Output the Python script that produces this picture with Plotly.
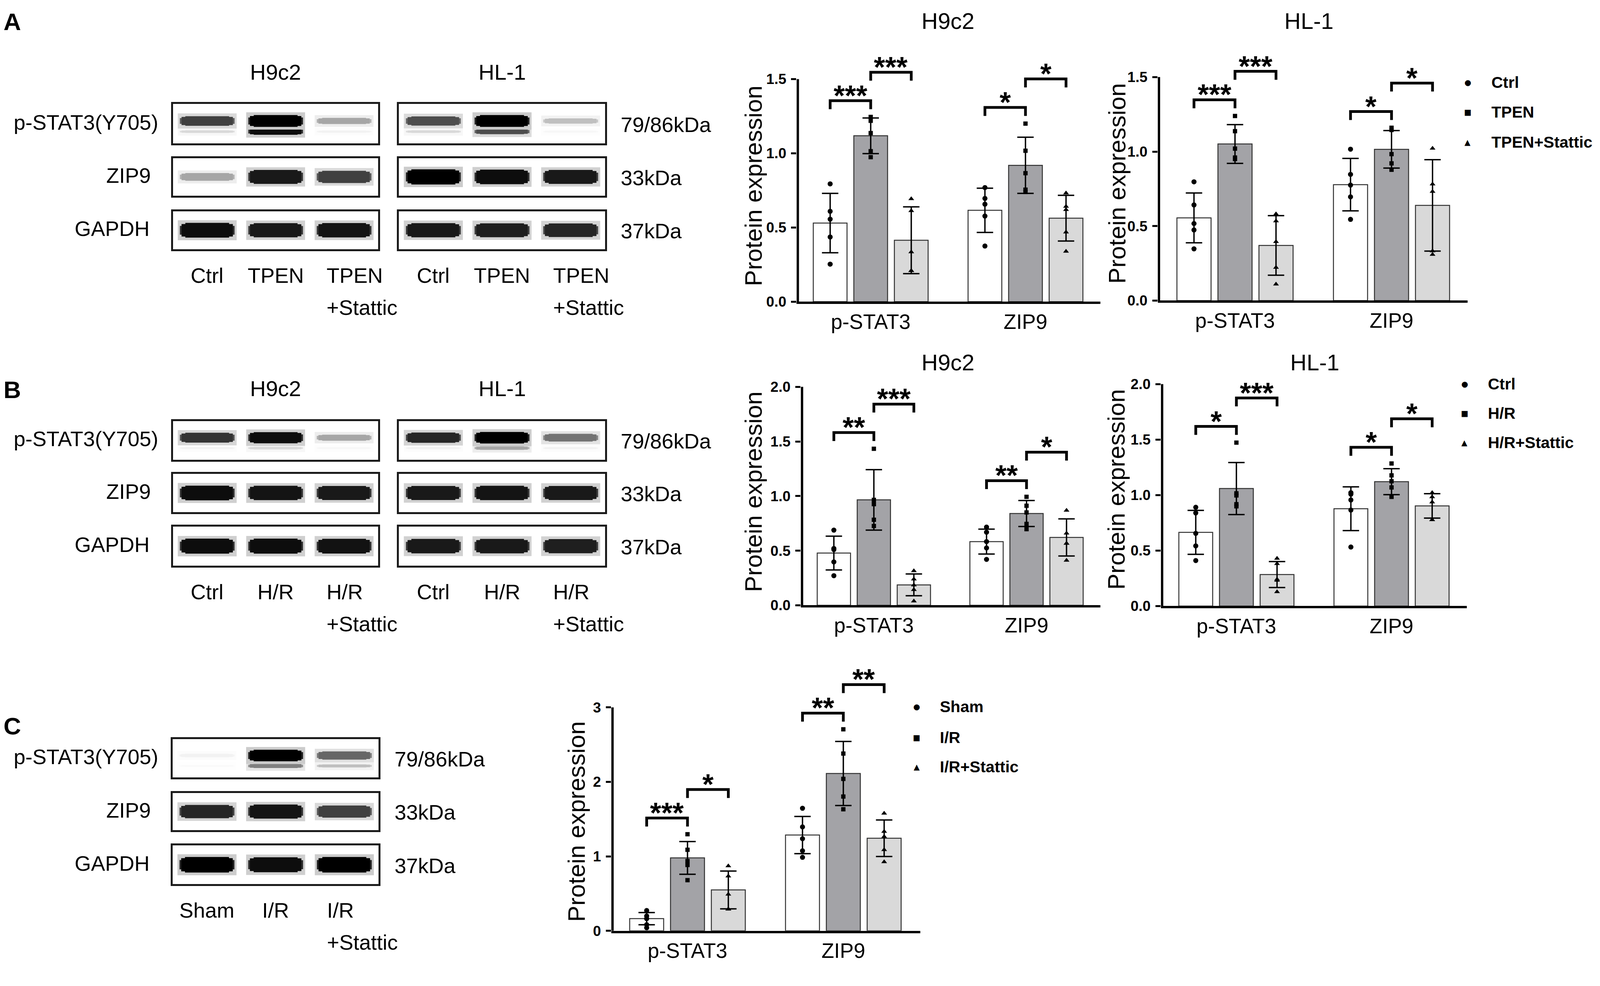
import plotly.graph_objects as go

# positions below are measured on the 4550 x 2524 reference and turned into paper fractions;
# the browser viewport is 4096 px wide (minus the 8 px body margin), so the figure is sized to it
W, H = 4550, 2524
FIG_W, FIG_H = 4088, 2516
FONT = "Liberation Sans, Arial, Helvetica, sans-serif"
GLYPH_FONT = "DejaVu Sans, sans-serif"

# ---------------- labels ----------------
MARKERS = ["p-STAT3", "ZIP9"]
BLOT_ROWS = ["p-STAT3(Y705)", "ZIP9", "GAPDH"]
BLOT_KDA = ["79/86kDa", "33kDa", "37kDa"]
CELL_LINES = ["H9c2", "HL-1"]
GROUPS_A = ["Ctrl", "TPEN", "TPEN+Stattic"]
GROUPS_B = ["Ctrl", "H/R", "H/R+Stattic"]
GROUPS_C = ["Sham", "I/R", "I/R+Stattic"]

# ---------------- bar chart values ----------------
# rows = group (ctrl, treatment, treatment+Stattic), cols = [p-STAT3, ZIP9]
A_H9C2_MEAN = [[0.53, 0.616], [1.118, 0.919], [0.414, 0.563]]
A_H9C2_SD = [[0.20, 0.149], [0.12, 0.189], [0.225, 0.154]]
A_H9C2_PTS = [
    [[0.794, 0.609, 0.556, 0.436, 0.253], [0.769, 0.696, 0.657, 0.577, 0.375]],
    [[1.245, 1.219, 1.136, 1.014, 0.974], [1.20, 1.017, 0.866, 0.755, 0.74]],
    [[0.693, 0.613, 0.335, 0.209, 0.209], [0.732, 0.642, 0.62, 0.469, 0.339]],
]
A_H9C2_SIG = [["***", "***"], ["*", "*"]]

A_HL1_MEAN = [[0.555, 0.778], [1.051, 1.015], [0.37, 0.639]]
A_HL1_SD = [[0.167, 0.176], [0.13, 0.126], [0.20, 0.307]]
A_HL1_PTS = [
    [[0.797, 0.642, 0.517, 0.474, 0.347], [1.016, 0.847, 0.775, 0.696, 0.545]],
    [[1.239, 1.137, 1.02, 0.96, 0.95], [1.16, 1.145, 0.983, 0.921, 0.878]],
    [[0.581, 0.534, 0.395, 0.222, 0.11], [1.022, 0.782, 0.732, 0.333, 0.309]],
]
A_HL1_SIG = [["***", "***"], ["*", "*"]]

B_H9C2_MEAN = [[0.478, 0.583], [0.965, 0.84], [0.187, 0.621]]
B_H9C2_SD = [[0.155, 0.114], [0.277, 0.119], [0.10, 0.17]]
B_H9C2_PTS = [
    [[0.688, 0.52, 0.51, 0.397, 0.271], [0.716, 0.669, 0.583, 0.525, 0.42]],
    [[1.433, 0.965, 0.926, 0.783, 0.726], [0.993, 0.911, 0.85, 0.745, 0.697]],
    [[0.315, 0.239, 0.185, 0.143, 0.038], [0.869, 0.66, 0.567, 0.567, 0.411]],
]
B_H9C2_SIG = [["**", "***"], ["**", "*"]]

B_HL1_MEAN = [[0.664, 0.877], [1.059, 1.121], [0.284, 0.903]]
B_HL1_SD = [[0.198, 0.197], [0.235, 0.117], [0.117, 0.11]]
B_HL1_PTS = [
    [[0.89, 0.839, 0.655, 0.542, 0.41], [1.022, 1.008, 0.956, 0.865, 0.532]],
    [[1.473, 1.016, 0.997, 0.918, 0.899], [1.285, 1.178, 1.125, 1.069, 0.984]],
    [[0.429, 0.382, 0.241, 0.231, 0.128], [1.022, 0.984, 0.937, 0.777, 0.777]],
]
B_HL1_SIG = [["*", "***"], ["*", "*"]]

C_MEAN = [[0.163, 1.286], [0.979, 2.113], [0.549, 1.243]]
C_SD = [[0.082, 0.25], [0.22, 0.43], [0.254, 0.245]]
C_PTS = [
    [[0.272, 0.199, 0.163, 0.082, 0.041], [1.645, 1.395, 1.237, 1.074, 0.987]],
    [[1.297, 1.088, 0.938, 0.884, 0.68], [2.706, 2.38, 2.04, 1.803, 1.632]],
    [[0.87, 0.734, 0.49, 0.291, 0.291], [1.577, 1.333, 1.265, 1.088, 0.925]],
]
C_SIG = [["***", "*"], ["**", "**"]]

TICKS_15 = [0.0, 0.5, 1.0, 1.5]
TICKS_20 = [0.0, 0.5, 1.0, 1.5, 2.0]
TICKS_3 = [0, 1, 2, 3]

# ---------------- western blot band intensities (0 = none, 1 = saturated) ----------------
# rows = p-STAT3, ZIP9, GAPDH ; lanes = 3 groups
A_H9C2_BANDS = [[0.75, 1.0, 0.35], [0.35, 0.9, 0.75], [0.95, 0.9, 0.92]]
A_H9C2_LOWER = [0.15, 0.95, 0.05]
A_HL1_BANDS = [[0.7, 1.0, 0.25], [1.0, 0.95, 0.9], [0.9, 0.88, 0.85]]
A_HL1_LOWER = [0.15, 0.7, 0.03]
B_H9C2_BANDS = [[0.8, 0.95, 0.35], [0.95, 0.92, 0.9], [0.95, 0.95, 0.93]]
B_H9C2_LOWER = [0.05, 0.15, 0.03]
B_HL1_BANDS = [[0.85, 1.0, 0.55], [0.9, 0.92, 0.9], [0.9, 0.9, 0.88]]
B_HL1_LOWER = [0.05, 0.35, 0.05]
C_BANDS = [[0.05, 1.0, 0.6], [0.85, 0.92, 0.75], [1.0, 0.95, 1.0]]
C_LOWER = [0.02, 0.5, 0.25]

# ---------------- style ----------------
BAR_FILL = ["#ffffff", "#a3a3a7", "#d9d9d9"]
BAR_EDGE = "#333333"
SYMBOLS = ["circle", "square", "triangle-up"]
SYM_SIZE = [13, 11, 13]
LEGEND_GLYPHS = ["\u25cf", "\u25a0", "\u25b2"]
STEP, BAR_W = 0.262, 0.218
LANES = [0, 1, 2]
# band drawn as stacked layers: (extra height, lane fraction, height scale, darkness scale)
BAND_LAYERS = [(0.14, 0.86, 1.0, 0.2), (0.0, 0.80, 0.6, 0.85), (0.0, 0.75, 0.85, 1.0), (0.0, 0.64, 1.0, 1.0)]

fig = go.Figure()
layout = {}
annotations = []
axis_count = [0]


def new_axes():
    axis_count[0] += 1
    n = axis_count[0]
    s = "" if n == 1 else str(n)
    return "x" + s, "y" + s, "xaxis" + s, "yaxis" + s


def text(t, x, y, size, xanchor="center", yanchor="middle", bold=False, angle=0, family=FONT):
    annotations.append(dict(
        text=t, x=x / W, y=1 - y / H, xref="paper", yref="paper",
        xanchor=xanchor, yanchor=yanchor, showarrow=False, textangle=angle,
        font=dict(family=family, size=size, color="black", weight="bold" if bold else "normal"),
    ))


def gray(i):
    v = int(round(255 * (1 - max(0.0, min(1.0, i)))))
    return "rgb(%d,%d,%d)" % (v, v, v)


def add_band(xa, ya, inten, center, t0, t1):
    thick = [t0 + t1 * i for i in inten]
    # pale halo, then narrower and taller dark layers -> rounded, soft-edged band
    for pad, wid, hs, k in BAND_LAYERS:
        hh = [t * hs + pad for t in thick]
        fig.add_trace(go.Bar(
            x=LANES, y=hh, base=[center - h / 2 for h in hh], width=wid,
            marker=dict(color=[gray(i * k) for i in inten], line=dict(width=0)),
            xaxis=xa, yaxis=ya, hoverinfo="skip", showlegend=False))


def add_blot_row(x0, x1, y0, y1, inten, lower=None):
    xa, ya, xk, yk = new_axes()
    frame = dict(showline=True, mirror=True, linewidth=5, linecolor="#1a1a1a",
                 showticklabels=False, ticks="", showgrid=False, zeroline=False, fixedrange=True)
    layout[xk] = dict(domain=[x0 / W, x1 / W], range=[-0.5, 2.5], anchor=ya, **frame)
    layout[yk] = dict(domain=[1 - y1 / H, 1 - y0 / H], range=[0, 1], anchor=xa, **frame)
    if lower is None:
        add_band(xa, ya, inten, 0.5, 0.1, 0.3)
    else:
        add_band(xa, ya, lower, 0.3, 0.05, 0.12)
        add_band(xa, ya, inten, 0.57, 0.08, 0.22)


def add_blot_panel(cols, rows, bands, lowers, groups, titles, title_y):
    for c, (x0, x1) in enumerate(cols):
        for r, (y0, y1) in enumerate(rows):
            add_blot_row(x0, x1, y0, y1, bands[c][r], lowers[c] if r == 0 else None)
        if titles:
            text(titles[c], (x0 + x1) / 2, title_y, 56)
        lane_w = (x1 - x0) / 3
        y_lab = rows[-1][1] + 68
        for k, g in enumerate(groups):
            lx = x0 + (k + 0.5) * lane_w
            if "+" in g:
                first, second = g.split("+")
                text(first, lx - 52, y_lab, 54, xanchor="left")
                text("+" + second, lx - 52, y_lab + 83, 54, xanchor="left")
            else:
                text(g, lx, y_lab, 54)
    right = cols[-1][1]
    for r, (y0, y1) in enumerate(rows):
        yc = (y0 + y1) / 2
        text(BLOT_ROWS[r], [444, 423, 420][r], yc - 4, 54, xanchor="right")
        text(BLOT_KDA[r], right + 43, yc + 2, 54, xanchor="left")


def add_chart(g, groups, mean, sd, pts, sig, yticks, fmt, title=None, legend=None):
    xa, ya, xk, yk = new_axes()
    unit = g["c1"] - g["c0"]
    xr = [(g["left"] - g["c0"]) / unit, (g["right"] - g["c0"]) / unit]
    ppu = g["ppu"]
    top_px = g["zero"] - g["rtop"] * ppu
    layout[xk] = dict(domain=[g["left"] / W, g["right"] / W], range=xr, anchor=ya,
                      tickvals=[0, 1], ticktext=MARKERS, ticks="", showline=True, linewidth=6,
                      linecolor="black", showgrid=False, zeroline=False, ticklabelstandoff=0,
                      tickfont=dict(family=FONT, size=53, color="black"), fixedrange=True)
    layout[yk] = dict(domain=[1 - g["zero"] / H, 1 - top_px / H], range=[0, g["rtop"]], anchor=xa,
                      tickvals=yticks, tickformat=fmt, ticks="outside", ticklen=13, tickwidth=5,
                      tickcolor="black", showline=False, showgrid=False, zeroline=False,
                      ticklabelstandoff=5, fixedrange=True,
                      tickfont=dict(family=FONT, size=37, color="black", weight="bold"))

    for k in range(3):
        off = (k - 1) * STEP
        fig.add_trace(go.Bar(
            x=[0, 1], y=mean[k], offset=off - BAR_W / 2, width=BAR_W, name=groups[k],
            marker=dict(color=BAR_FILL[k], line=dict(color=BAR_EDGE, width=2.5)),
            error_y=dict(type="data", array=sd[k], visible=True, color="black", thickness=3.5, width=21),
            xaxis=xa, yaxis=ya, showlegend=False))
    for k in range(3):
        off = (k - 1) * STEP
        xs, ys = [], []
        for m in range(2):
            for v in pts[k][m]:
                xs.append(m + off)
                ys.append(v)
        fig.add_trace(go.Scatter(
            x=xs, y=ys, mode="markers", name=groups[k], cliponaxis=False,
            marker=dict(symbol=SYMBOLS[k], size=SYM_SIZE[k], color="black"),
            xaxis=xa, yaxis=ya, showlegend=False))

    # y axis line stops at the top tick (Prism style)
    fig.add_trace(go.Scatter(x=[xr[0], xr[0]], y=[0, yticks[-1]], mode="lines",
                             line=dict(color="black", width=12), xaxis=xa, yaxis=ya,
                             hoverinfo="skip", showlegend=False))

    # significance brackets, stacked above the highest point of the compared groups
    leg = 22 / ppu
    bx, by = [], []
    for m in range(2):
        h1 = max(pts[0][m] + pts[1][m]) + 42 / ppu
        h2 = h1 + 74 / ppu
        for a, b, h, lab in [(0, 1, h1, sig[m][0]), (1, 2, h2, sig[m][1])]:
            x_a = m + (a - 1) * STEP
            x_b = m + (b - 1) * STEP
            bx += [x_a, x_a, x_b, x_b, None]
            by += [h - leg, h, h, h - leg, None]
            annotations.append(dict(
                text=lab, x=(x_a + x_b) / 2, y=h, xref=xa, yref=ya, yanchor="bottom",
                yshift=-30, showarrow=False,
                font=dict(family=FONT, size=74, color="black", weight="bold")))
    fig.add_trace(go.Scatter(x=bx, y=by, mode="lines", line=dict(color="black", width=7),
                             xaxis=xa, yaxis=ya, hoverinfo="skip", showlegend=False))

    text("Protein expression", g["ytx"], g["yty"], 62, angle=-90)
    if title:
        text(title[0], title[1], title[2], 58)
    if legend:
        mx, tx, lys = legend
        for k in range(3):
            text(LEGEND_GLYPHS[k], mx, lys[k], 20, family=GLYPH_FONT)
            text(groups[k], tx, lys[k], 41, xanchor="left", bold=True)


# ---------------- panel A ----------------
text("A", 26, 42, 62, bold=True)
add_blot_panel([(484, 1069), (1128, 1715)], [(256, 358), (396, 494), (534, 633)],
               [A_H9C2_BANDS, A_HL1_BANDS], [A_H9C2_LOWER, A_HL1_LOWER], GROUPS_A, CELL_LINES, 173)
add_chart(dict(left=2261, right=3126, zero=769, ppu=385.3, c0=2472, c1=2913, rtop=1.72, ytx=2138, yty=468),
          GROUPS_A, A_H9C2_MEAN, A_H9C2_SD, A_H9C2_PTS, A_H9C2_SIG, TICKS_15, ".1f",
          title=("H9c2", 2692, 40))
add_chart(dict(left=3290, right=4173, zero=766, ppu=386.7, c0=3510, c1=3956, rtop=1.72, ytx=3174, yty=462),
          GROUPS_A, A_HL1_MEAN, A_HL1_SD, A_HL1_PTS, A_HL1_SIG, TICKS_15, ".1f",
          title=("HL-1", 3721, 40), legend=(4173, 4238, [200, 277, 355]))

# ---------------- panel B ----------------
text("B", 26, 997, 62, bold=True)
add_blot_panel([(484, 1069), (1128, 1715)], [(1079, 1179), (1216, 1315), (1353, 1454)],
               [B_H9C2_BANDS, B_HL1_BANDS], [B_H9C2_LOWER, B_HL1_LOWER], GROUPS_B, CELL_LINES, 994)
add_chart(dict(left=2273, right=3126, zero=1557, ppu=283.5, c0=2481, c1=2916, rtop=2.05, ytx=2138, yty=1262),
          GROUPS_B, B_H9C2_MEAN, B_H9C2_SD, B_H9C2_PTS, B_H9C2_SIG, TICKS_20, ".1f",
          title=("H9c2", 2692, 926))
add_chart(dict(left=3299, right=4171, zero=1559, ppu=288.0, c0=3514, c1=3956, rtop=2.05, ytx=3172, yty=1256),
          GROUPS_B, B_HL1_MEAN, B_HL1_SD, B_HL1_PTS, B_HL1_SIG, TICKS_20, ".1f",
          title=("HL-1", 3738, 926), legend=(4164, 4228, [983, 1059, 1135]))

# ---------------- panel C ----------------
text("C", 26, 1870, 62, bold=True)
add_blot_panel([(483, 1070)], [(1904, 2004), (2044, 2141), (2180, 2281)],
               [C_BANDS], [C_LOWER], GROUPS_C, None, 0)
add_chart(dict(left=1733, right=2613, zero=2402, ppu=193.3, c0=1950, c1=2394, rtop=3.38, ytx=1634, yty=2118),
          GROUPS_C, C_MEAN, C_SD, C_PTS, C_SIG, TICKS_3, "d",
          legend=(2603, 2667, [1820, 1900, 1976]))

fig.update_layout(
    width=FIG_W, height=FIG_H, margin=dict(l=0, r=0, t=0, b=0),
    paper_bgcolor="white", plot_bgcolor="white",
    barmode="overlay", showlegend=False,
    font=dict(family=FONT, color="black"),
    annotations=annotations, **layout,
)

fig.write_html("out.html")
